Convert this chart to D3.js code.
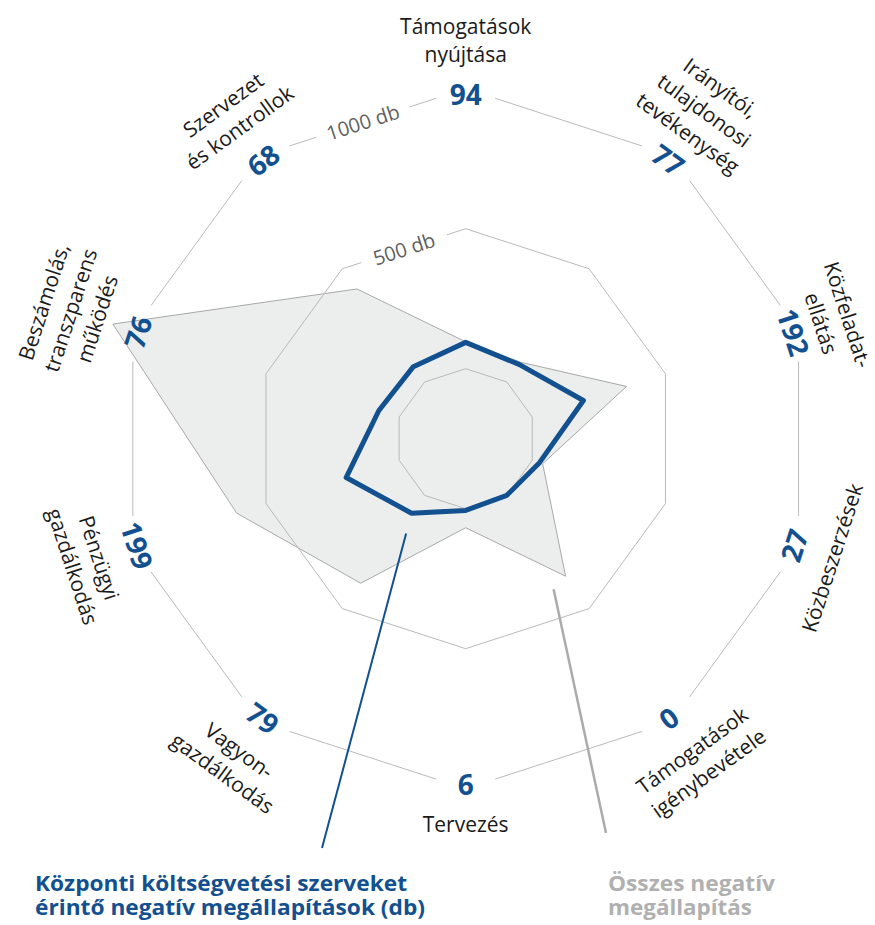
<!DOCTYPE html>
<html lang="hu">
<head>
    <meta charset="UTF-8">
    <title>Negatív megállapítások</title>
    <script src="https://cdnjs.cloudflare.com/ajax/libs/d3/7.8.5/d3.min.js"></script>
    <style>
        * { margin: 0; padding: 0; box-sizing: border-box; }
        body { background: #fff; font-family: "Open Sans", sans-serif; }
        #chart { width: 875px; height: 925px; }
        .grid { fill: none; stroke: #b9b9b9; stroke-width: 1; }
        .cat { font-size: 21px; fill: #1a1a1a; }
        .val { font-size: 28px; font-weight: 700; fill: #12508f; }
        .gridlabel { font-size: 20px; fill: #5f5f5f; }
    </style>
</head>
<body>
    <div id="chart"></div>
    <script>
        // categories, clockwise from the top
        const categories = [
            ["Támogatások", "nyújtása"],
            ["Irányítói,", "tulajdonosi", "tevékenység"],
            ["Közfeladat-", "ellátás"],
            ["Közbeszerzések"],
            ["Támogatások", "igénybevétele"],
            ["Tervezés"],
            ["Vagyon-", "gazdálkodás"],
            ["Pénzügyi", "gazdálkodás"],
            ["Beszámolás,", "transzparens", "működés"],
            ["Szervezet", "és kontrollok"]
        ];
        // negatív megállapítások a központi költségvetési szerveknél (db)
        const centralValues = [94, 77, 192, 27, 0, 6, 79, 199, 76, 68];
        // összes negatív megállapítás (db)
        const totalValues = [96, 87, 354, 39, 357, 68, 388, 610, 1075, 411];
        const gridValues = [0, 500, 1000];
        const gridLabels = ["", "500 db", "1000 db"];

        const width = 875, height = 925;
        const cx = 465.7, cy = 438.7;
        const blue = "#12508f", grey = "#ababab";
        // hand nudges for a few category labels (px, radial)
        const labelNudge = { 1: -7, 2: -11, 8: 3 };

        const svg = d3.select("#chart").append("svg")
            .attr("width", width)
            .attr("height", height);

        const n = categories.length;
        const angle = d3.scaleLinear().domain([0, n]).range([0, 2 * Math.PI]);
        const r = d3.scaleLinear().domain([0, 1000]).range([70, 350]);

        function pt(i, radius) {
            const a = angle(i);
            return [cx + radius * Math.sin(a), cy - radius * Math.cos(a)];
        }

        const g = svg.append("g");

        const radial = d3.lineRadial()
            .angle((d, i) => angle(i))
            .radius(d => r(d))
            .curve(d3.curveLinearClosed);

        // grey area: all negative findings
        g.append("path")
            .datum(totalValues)
            .attr("transform", `translate(${cx},${cy})`)
            .attr("d", radial)
            .attr("fill", "#eceeed")
            .attr("stroke", "#a8a8a8")
            .attr("stroke-width", 1);

        // grid rings, cut where the labels sit
        gridValues.forEach((v, gi) => {
            const rad = r(v);
            const vertexGap = v === 1000 ? 31 : 0;
            const labelGap = gridLabels[gi] ? (v === 1000 ? 49 : 45) : 0;
            for (let i = 0; i < n; i++) {
                const p0 = pt(i, rad), p1 = pt((i + 1) % n, rad);
                const L = Math.hypot(p1[0] - p0[0], p1[1] - p0[1]);
                const ux = (p1[0] - p0[0]) / L, uy = (p1[1] - p0[1]) / L;
                let segs = [[vertexGap, L - vertexGap]];
                if (labelGap && i === n - 1) {
                    segs = [[vertexGap, L / 2 - labelGap], [L / 2 + labelGap, L - vertexGap]];
                }
                segs.forEach(s => {
                    g.append("line")
                        .attr("class", "grid")
                        .attr("x1", p0[0] + ux * s[0]).attr("y1", p0[1] + uy * s[0])
                        .attr("x2", p0[0] + ux * s[1]).attr("y2", p0[1] + uy * s[1]);
                });
                if (labelGap && i === n - 1) {
                    const mx = (p0[0] + p1[0]) / 2, my = (p0[1] + p1[1]) / 2;
                    const rot = Math.atan2(uy, ux) * 180 / Math.PI;
                    g.append("text")
                        .attr("class", "gridlabel")
                        .attr("transform", `translate(${mx},${my}) rotate(${rot})`)
                        .attr("text-anchor", "middle")
                        .attr("dominant-baseline", "central")
                        .text(gridLabels[gi]);
                }
            }
        });

        // blue line: central budgetary bodies
        g.append("path")
            .datum(centralValues)
            .attr("transform", `translate(${cx},${cy})`)
            .attr("d", radial)
            .attr("fill", "none")
            .attr("stroke", blue)
            .attr("stroke-width", 5)
            .attr("stroke-linejoin", "round");

        // value and category labels around the outer ring
        categories.forEach((lines, i) => {
            const deg = i * 360 / n;
            const top = deg <= 90 || deg >= 270;
            const rot = top ? (deg > 180 ? deg - 360 : deg) : deg - 180;
            const p = pt(i, r(1000));
            const off = 35 + (labelNudge[i] || 0);
            const lg = g.append("g")
                .attr("transform", `translate(${p[0]},${p[1]}) rotate(${rot})`);
            lg.append("text")
                .attr("class", "val")
                .attr("text-anchor", "middle")
                .attr("dominant-baseline", "central")
                .attr("y", top ? 5 : -5)
                .text(centralValues[i]);
            lines.forEach((line, k) => {
                const y = top ? -off - (lines.length - 1 - k) * 28 : off + k * 28;
                lg.append("text")
                    .attr("class", "cat")
                    .attr("text-anchor", "middle")
                    .attr("dominant-baseline", "central")
                    .attr("y", y)
                    .text(line);
            });
        });

        // leader lines to the legend
        const blueTarget = pt(6, r(centralValues[6]));
        const blueEnd = [322, 848];
        const bd = Math.hypot(blueTarget[0] - blueEnd[0], blueTarget[1] - blueEnd[1]);
        const bt = (bd - 21) / bd;
        g.append("line")
            .attr("x1", blueEnd[0]).attr("y1", blueEnd[1])
            .attr("x2", blueEnd[0] + (blueTarget[0] - blueEnd[0]) * bt)
            .attr("y2", blueEnd[1] + (blueTarget[1] - blueEnd[1]) * bt)
            .attr("stroke", blue).attr("stroke-width", 2);

        const greyTarget = pt(4, r(totalValues[4]));
        g.append("line")
            .attr("x1", 606).attr("y1", 833)
            .attr("x2", greyTarget[0] - 12).attr("y2", greyTarget[1] + 13)
            .attr("stroke", grey).attr("stroke-width", 2.5);

        // legend
        const legend = [
            { x: 35, color: blue, lines: ["Központi költségvetési szerveket", "érintő negatív megállapítások (db)"], lens: [372, 390] },
            { x: 608, color: "#b0b0b0", lines: ["Összes negatív", "megállapítás"], lens: [167, 144] }
        ];
        legend.forEach(l => {
            l.lines.forEach((line, k) => {
                svg.append("text")
                    .attr("x", l.x)
                    .attr("y", 891 + k * 24)
                    .attr("fill", l.color)
                    .attr("font-size", 22)
                    .attr("font-weight", 700)
                    .attr("textLength", l.lens[k])
                    .attr("lengthAdjust", "spacingAndGlyphs")
                    .text(line);
            });
        });
    </script>
</body>
</html>
